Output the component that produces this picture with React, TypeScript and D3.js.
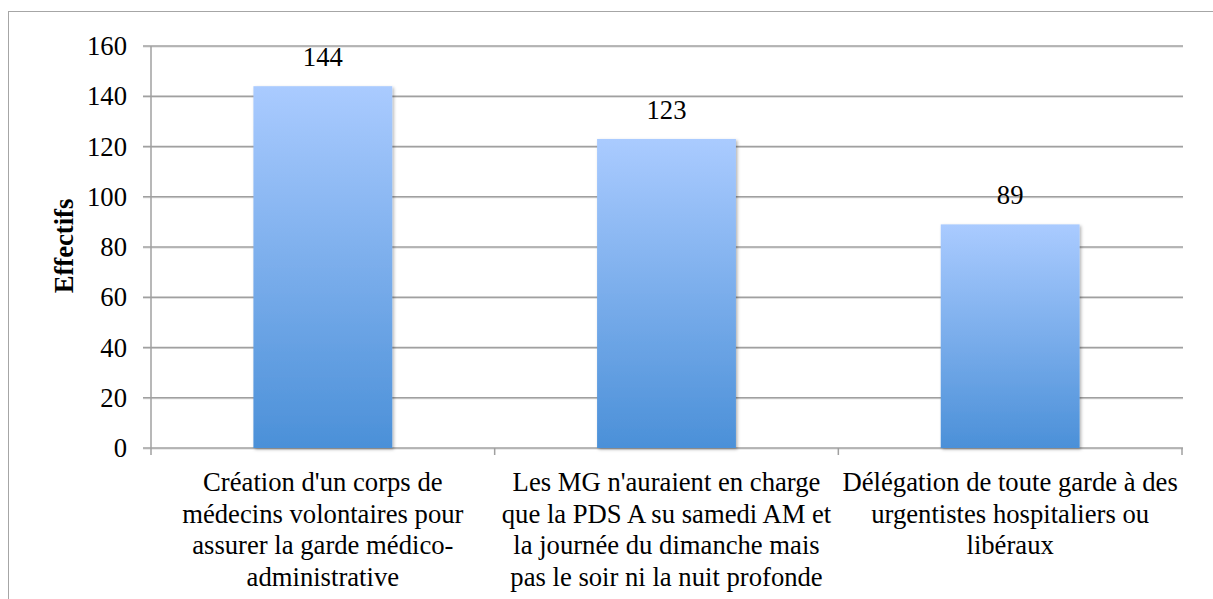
import React from "react";
import * as d3 from "d3";

const categories: string[][] = [
  ["Création d'un corps de", "médecins volontaires pour", "assurer la garde médico-", "administrative"],
  ["Les MG n'auraient en charge", "que la PDS A su samedi AM et", "la journée du dimanche mais", "pas le soir ni la nuit profonde"],
  ["Délégation de toute garde à des", "urgentistes hospitaliers ou", "libéraux"],
];
const values: number[] = [144, 123, 89];
const yTicks: number[] = [0, 20, 40, 60, 80, 100, 120, 140, 160];
const yTitle = "Effectifs";

const W = 1213;
const H = 599;
const FS = 26.67;

export default function App() {
  const keys = categories.map((_, i) => String(i));
  const x = d3.scaleBand<string>().domain(keys).range([151, 1182]).paddingInner(0).paddingOuter(0);
  const y = d3.scaleLinear().domain([0, 160]).range([448, 46]);
  const bw = x.bandwidth() * 0.404;
  const grid = "#a0a0a0";
  const t = { fontFamily: "Liberation Serif", fontSize: FS } as React.CSSProperties;

  return (
    <svg width={W} height={H} style={{ position: "absolute", left: 0, top: 0, background: "#fff" }}>
      <defs>
        <linearGradient id="barGrad" x1="0" y1="0" x2="0" y2="1">
          <stop offset="0%" stopColor="#aacbff" />
          <stop offset="100%" stopColor="#4b90d8" />
        </linearGradient>
        <filter id="shadow" x="-10%" y="-10%" width="130%" height="130%">
          <feDropShadow dx="1.5" dy="1.5" stdDeviation="1.5" floodColor="#000" floodOpacity="0.3" />
        </filter>
      </defs>
      <rect x={8.5} y={11.5} width={1230} height={620} fill="#fff" stroke="#a6a6a6" strokeWidth={1} />

      {yTicks.map((tk) => (
        <g key={tk}>
          <line x1={143} x2={1183} y1={y(tk) + 1} y2={y(tk) + 1} stroke="#d8d8d8" strokeWidth={1} />
          <line x1={143} x2={1183} y1={y(tk)} y2={y(tk)} stroke={grid} strokeWidth={1.5} />
          <text x={127} y={y(tk) + 9} textAnchor="end" style={t}>
            {tk}
          </text>
        </g>
      ))}
      <line x1={151} x2={151} y1={46} y2={448} stroke={grid} strokeWidth={1.5} />
      {[...keys.map((k) => x(k) as number), 1182].map((bx, i) => (
        <line key={i} x1={bx} x2={bx} y1={448} y2={455} stroke={grid} strokeWidth={1.5} />
      ))}

      {values.map((v, i) => {
        const cx = (x(keys[i]) as number) + x.bandwidth() / 2;
        return (
          <g key={i}>
            <rect x={cx - bw / 2} y={y(v)} width={bw} height={y(0) - y(v)} fill="url(#barGrad)" filter="url(#shadow)" />
            <text x={cx} y={y(v) - 20} textAnchor="middle" style={t}>
              {v}
            </text>
          </g>
        );
      })}

      {categories.map((lines, i) => {
        const cx = (x(keys[i]) as number) + x.bandwidth() / 2;
        return lines.map((l, j) => (
          <text key={i + "-" + j} x={cx} y={491 + j * 31.7} textAnchor="middle" style={t}>
            {l}
          </text>
        ));
      })}

      <text transform={`translate(73, 246) rotate(-90)`} textAnchor="middle" style={{ ...t, fontWeight: "bold" }}>
        {yTitle}
      </text>
    </svg>
  );
}
